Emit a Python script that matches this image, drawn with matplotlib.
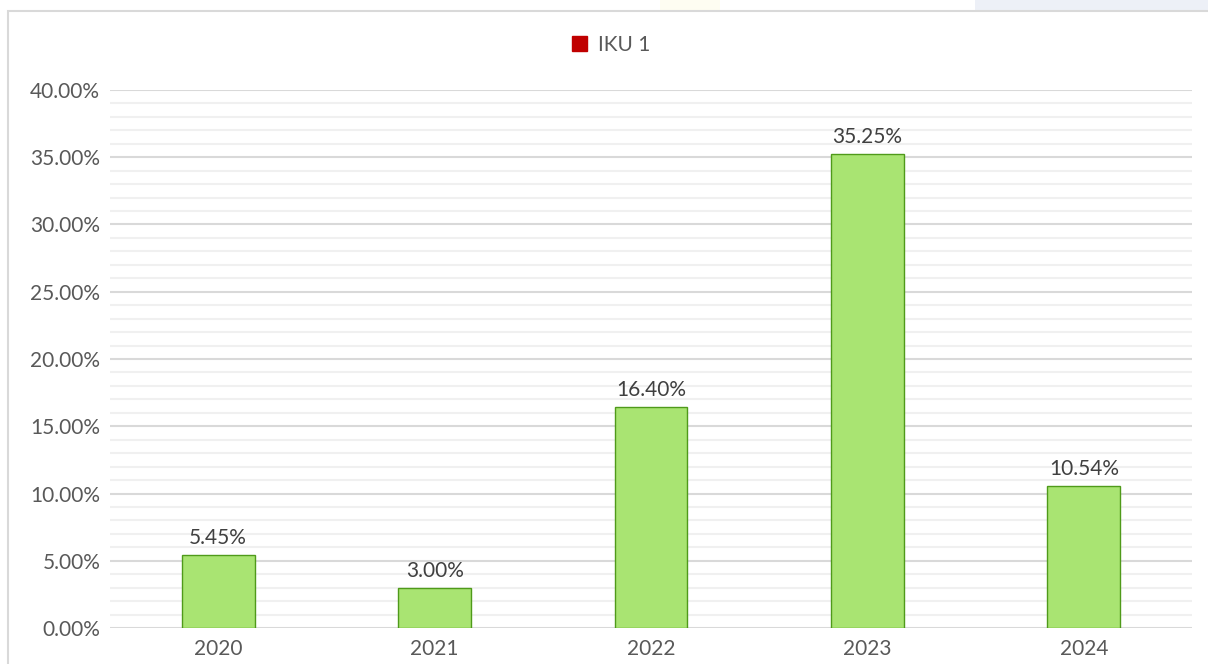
import matplotlib.pyplot as plt
from matplotlib.patches import Rectangle, Patch
from matplotlib.ticker import MultipleLocator, PercentFormatter

years = ['2020', '2021', '2022', '2023', '2024']
iku1 = [5.45, 3.00, 16.40, 35.25, 10.54]  # percent

plt.rcParams['font.family'] = ['Lato', 'DejaVu Sans']
txt = '#595959'
fs = 15

fig = plt.figure(figsize=(12.08, 6.64), dpi=100)
ax = fig.add_axes([110 / 1208, 36 / 664, 1082 / 1208, 538 / 664])

# faint watermark strip at the very top
fig.patches.append(Rectangle((975 / 1208, 1 - 11 / 664), 233 / 1208, 11 / 664,
                             transform=fig.transFigure, color='#edf0f7', lw=0, zorder=0))
fig.patches.append(Rectangle((660 / 1208, 1 - 11 / 664), 60 / 1208, 11 / 664,
                             transform=fig.transFigure, color='#fefdf2', lw=0, zorder=0))
# chart border
fig.patches.append(Rectangle((8 / 1208, -0.05), 1.1, 1 - 11 / 664 + 0.05,
                             transform=fig.transFigure, fill=False,
                             edgecolor='#d9d9d9', lw=1.5, zorder=1))

x = range(len(years))
bars = ax.bar(x, iku1, width=0.337, color='#a9e472', edgecolor='#4f9a1a',
              linewidth=1.0, zorder=3)
for b, v in zip(bars, iku1):
    ax.annotate(f'{v:.2f}%', (b.get_x() + b.get_width() / 2, v),
                xytext=(0, 5), textcoords='offset points', ha='center',
                va='bottom', fontsize=fs, color='#404040')

ax.set_xlim(-0.5, len(years) - 0.5)
ax.set_ylim(0, 40)
ax.yaxis.set_major_locator(MultipleLocator(5))
ax.yaxis.set_minor_locator(MultipleLocator(1))
ax.yaxis.set_major_formatter(PercentFormatter(decimals=2))
ax.set_xticks(list(x))
ax.set_xticklabels(years)
ax.grid(axis='y', which='major', color='#d9d9d9', lw=1.5, zorder=0)
ax.grid(axis='y', which='minor', color='#f0f0f0', lw=1.5, zorder=0)
ax.tick_params(axis='both', which='both', length=0, labelsize=fs,
               labelcolor=txt)
ax.tick_params(axis='y', pad=7)
ax.tick_params(axis='x', pad=8)
for s in ax.spines.values():
    s.set_visible(False)

fig.legend(handles=[Patch(facecolor='#c00000', edgecolor='#c00000', label='IKU 1')],
           loc='center', bbox_to_anchor=(611 / 1208, 1 - 45 / 664), frameon=False,
           fontsize=fs, labelcolor=txt, handlelength=0.75, handleheight=0.75,
           handletextpad=0.5)

fig.savefig('out.png', dpi=100, facecolor='white')
